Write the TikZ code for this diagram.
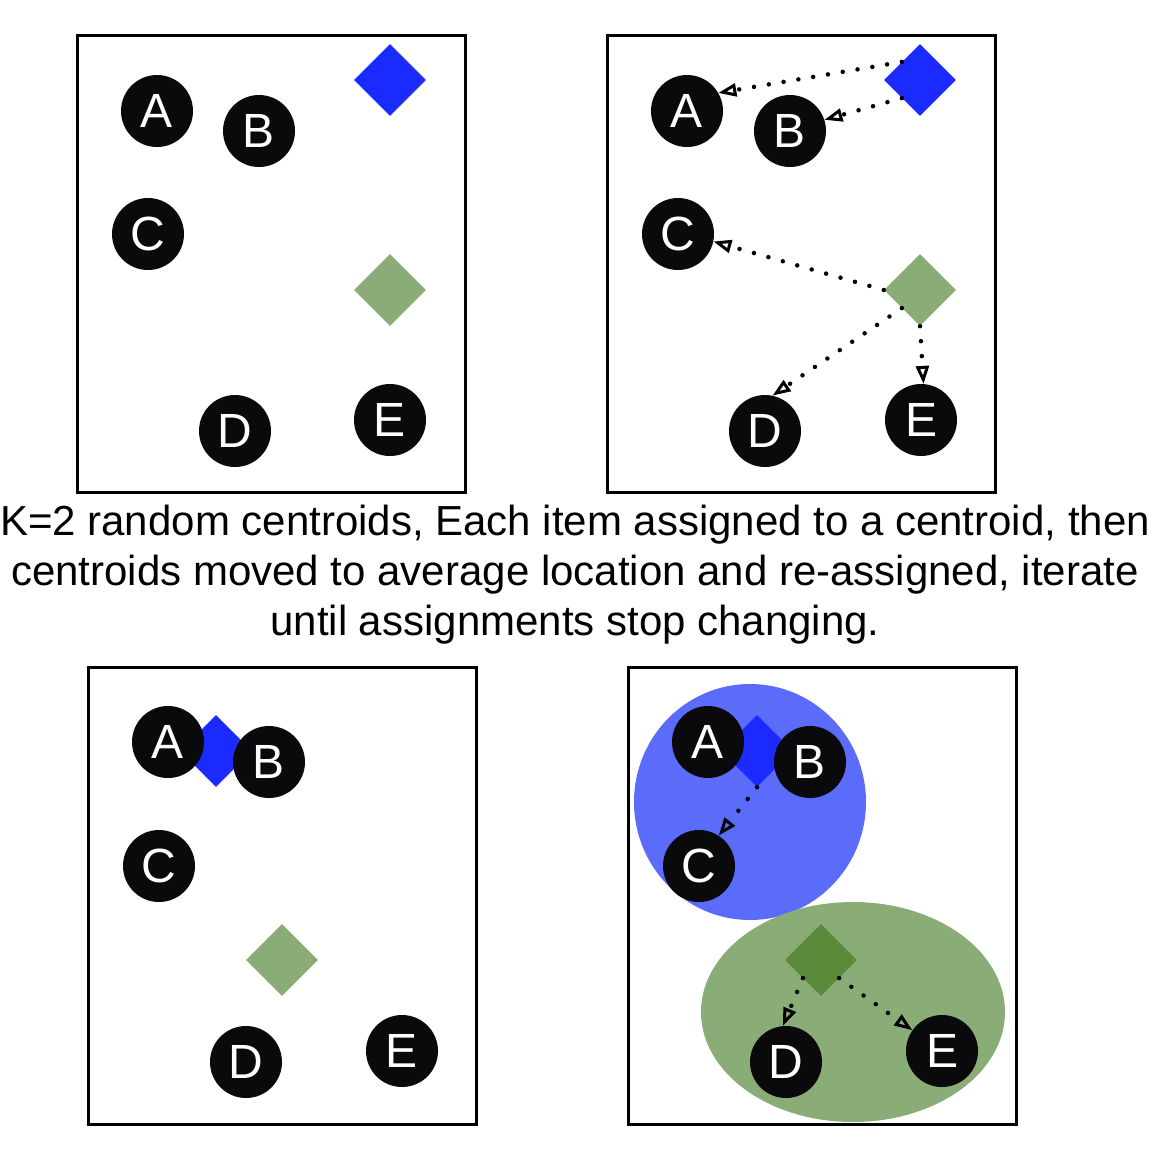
\documentclass[tikz,border=0pt]{standalone}
\usepackage{fontspec}
\setmainfont{Liberation Sans}
\usetikzlibrary{shapes.geometric,arrows.meta}
\definecolor{cblue}{RGB}{27,43,253}
\definecolor{lblue}{RGB}{92,108,250}
\definecolor{lgreen}{RGB}{138,172,118}
\definecolor{dgreen}{RGB}{90,137,58}
\definecolor{nblack}{RGB}{10,10,12}
\tikzset{
  panel/.style={draw=black, line width=3pt, fill=white},
  item/.style={circle, fill=nblack, minimum size=72pt, inner sep=0pt, text=white, font=\fontsize{48}{48}\selectfont},
  cent/.style={diamond, minimum width=72pt, minimum height=72pt, inner sep=0pt, draw=none},
  assign/.style={line width=4.5pt, line cap=round, dash pattern=on 0pt off 15pt,
    -{Triangle[open,length=18pt,width=13pt,line width=3pt]}},
}
\begin{document}
\begin{tikzpicture}[x=1pt,y=-1pt]
\useasboundingbox (0,0) rectangle (1149,1160);
\fill[white] (0,0) rectangle (1149,1160);
% panels
\draw[panel] (77,35) rectangle (465,492);
\draw[panel] (607,35) rectangle (995,492);
\draw[panel] (88,667) rectangle (476,1124);
\draw[panel] (628,667) rectangle (1016,1124);
% panel 1
\node[cent, fill=cblue] (bd1) at (390,80) {};
\node[cent, fill=lgreen] (gd1) at (390,290) {};
\node[item] (a1) at (157,111) {A};
\node[item] (b1) at (259,131) {B};
\node[item] (c1) at (148,234) {C};
\node[item] (d1) at (235,431) {D};
\node[item] (e1) at (390,420) {E};
% panel 2
\node[cent, fill=cblue] (bd2) at (920,80) {};
\node[cent, fill=lgreen] (gd2) at (920,290) {};
\node[item] (a2) at (687,111) {A};
\node[item] (b2) at (790,131) {B};
\node[item] (c2) at (678,234) {C};
\node[item] (d2) at (765,431) {D};
\node[item] (e2) at (921,420) {E};
\draw[assign] (bd2.north west) -- (a2.30);
\draw[assign] (bd2.south west) -- (b2.18);
\draw[assign] (gd2.west) -- (c2.-12);
\draw[assign] (gd2.south west) -- (d2.78);
\draw[assign] (gd2.south) -- (e2.86);
% caption
\node[align=center, font=\fontsize{42}{50}\selectfont] (cap) at (575,575)
  {K=2 random centroids, Each item assigned to a centroid, then\\
   centroids moved to average location and re-assigned, iterate\\
   until assignments stop changing.};
% panel 3
\node[cent, fill=cblue] (bd3) at (216,751) {};
\node[cent, fill=lgreen] (gd3) at (282,960) {};
\node[item] (a3) at (168,742) {A};
\node[item] (b3) at (269,762) {B};
\node[item] (c3) at (159,866) {C};
\node[item] (d3) at (246,1062) {D};
\node[item] (e3) at (402,1051) {E};
% panel 4
\node[ellipse, fill=lblue, minimum width=232pt, minimum height=236pt, inner sep=0pt] (bc4) at (750,802) {};
\node[ellipse, fill=lgreen, minimum width=304pt, minimum height=220pt, inner sep=0pt] (gc4) at (853,1012) {};
\node[cent, fill=cblue] (bd4) at (757,751) {};
\node[cent, fill=dgreen] (gd4) at (821,960) {};
\node[item] (a4) at (708,742) {A};
\node[item] (b4) at (810,762) {B};
\node[item] (c4) at (699,866) {C};
\node[item] (d4) at (786,1062) {D};
\node[item] (e4) at (942,1051) {E};
\draw[assign] (bd4.south) -- (c4.57);
\draw[assign] (gd4.south west) -- (d4.95);
\draw[assign] (gd4.south east) -- (e4.145);
\end{tikzpicture}
\end{document}
